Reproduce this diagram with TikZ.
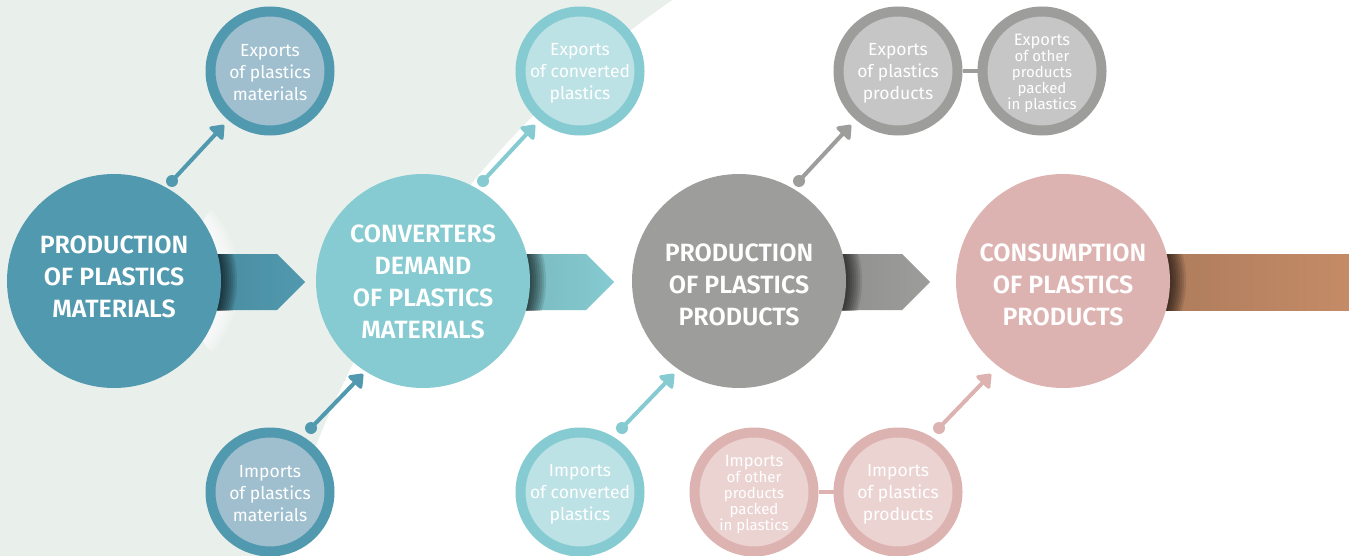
\documentclass[tikz,border=0pt]{standalone}
\usepackage{fontspec}
\setmainfont{Fira Sans}
\IfFontExistsTF{Fira Sans SemiBold}{\newfontfamily\headfont{Fira Sans SemiBold}}{\newcommand\headfont{\bfseries}}
\usetikzlibrary{arrows.meta}
\definecolor{bgc}{HTML}{E9F0EC}
\definecolor{tealD}{HTML}{5199AF}
\definecolor{tealDin}{HTML}{9FBFCF}
\definecolor{tealL}{HTML}{85CBD1}
\definecolor{tealLin}{HTML}{BDE2E5}
\definecolor{grayM}{HTML}{9D9D9C}
\definecolor{grayMin}{HTML}{C6C6C6}
\definecolor{pinkM}{HTML}{DDB3B1}
\definecolor{pinkMin}{HTML}{EBD3D2}
\definecolor{brownL}{HTML}{A8795A}
\definecolor{brownR}{HTML}{C58B67}
\newcommand\firstline[1]{{\fontsize{16.5}{16}\selectfont #1}}
\begin{document}
\begin{tikzpicture}[x=1pt,y=-1pt,
  mainc/.style={circle, minimum size=214pt, inner sep=0pt},
  maintext/.style={text=white, align=center, inner sep=0pt,
    font=\fontsize{25}{32}\selectfont\headfont},
  smallc/.style={circle, minimum size=119pt, inner sep=0pt, line width=10pt},
  smalltext/.style={text=white, align=center, inner sep=0pt,
    font=\fontsize{17.5}{22}\selectfont},
  packtext/.style={smalltext, font=\fontsize{15}{16}\selectfont},
  link/.style={line width=4pt, -{Triangle[length=14pt,width=21pt,round]}},
  joinline/.style={line width=4pt}]
\useasboundingbox (0,0) rectangle (1349,556);
\fill[white] (0,0) rectangle (1349,556);
\begin{scope}
  \clip (0,0) rectangle (1349,556);
  \fill[bgc, even odd rule] (0,0) rectangle (1349,556) (1225,807) circle[radius=978pt];
\end{scope}

\coordinate (c1) at (114,281);
\coordinate (c2) at (423,281);
\coordinate (c3) at (739,281);
\coordinate (c4) at (1063,281);

% arrows between stages
\foreach \cx/\col in {114/tealD, 423/tealL, 739/grayM} {
  \begin{scope}
    \clip (\cx+107,281) ellipse[x radius=30pt, y radius=75pt];
    \foreach \k in {2,4,...,18} \fill[white, opacity=0.14] (\cx+\k,281) circle[radius=107pt];
  \end{scope}
  \shade[left color=\col!88!black, right color=\col]
    (\cx+60,254) -- (\cx+163,254) -- (\cx+191,282) -- (\cx+163,310) -- (\cx+60,310) -- cycle;
  \begin{scope}
    \clip (\cx+60,254) rectangle (\cx+200,310);
    \foreach \k in {2,4,...,16} \fill[black, opacity=0.1] (\cx+\k,281) circle[radius=107pt];
  \end{scope}
}
\shade[left color=brownL, right color=brownR] (1120,254) rectangle (1349,310);
\begin{scope}
  \clip (1120,254) rectangle (1349,310);
  \foreach \k in {2,4,...,16} \fill[black, opacity=0.1] (1063+\k,281) circle[radius=107pt];
\end{scope}

% main circles
\node[mainc, fill=tealD] (m1) at (c1) {};
\node[mainc, fill=tealL] (m2) at (c2) {};
\node[mainc, fill=grayM] (m3) at (c3) {};
\node[mainc, fill=pinkM] (m4) at (c4) {};
\node[maintext] (m1t) at (114,277) {PRODUCTION\\OF PLASTICS\\MATERIALS};
\node[maintext] (m2t) at (423,282) {CONVERTERS\\DEMAND\\OF PLASTICS\\MATERIALS};
\node[maintext] (m3t) at (739,285) {PRODUCTION\\OF PLASTICS\\PRODUCTS};
\node[maintext] (m4t) at (1063,285) {CONSUMPTION\\OF PLASTICS\\PRODUCTS};

% small circles
\node[smallc, draw=tealD, fill=tealDin] (e1) at (270,71) {};
\node[smallc, draw=tealL, fill=tealLin] (e2) at (580,71) {};
\node[smallc, draw=grayM, fill=grayMin] (e3) at (898,71) {};
\node[smallc, draw=grayM, fill=grayMin] (e4) at (1042,71) {};
\node[smallc, draw=tealD, fill=tealDin] (i1) at (270,492) {};
\node[smallc, draw=tealL, fill=tealLin] (i2) at (580,492) {};
\node[smallc, draw=pinkM, fill=pinkMin] (i3) at (754,492) {};
\node[smallc, draw=pinkM, fill=pinkMin] (i4) at (898,492) {};

\node[smalltext] (e1t) at (270,73) {Exports\\of plastics\\materials};
\node[smalltext] (e2t) at (580,73) {Exports\\of converted\\plastics};
\node[smalltext] (e3t) at (898,73) {Exports\\of plastics\\products};
\node[packtext] (e4t) at (1042,73) {\firstline{Exports}\\of other\\products\\packed\\in plastics};
\node[smalltext] (i1t) at (270,494) {Imports\\of plastics\\materials};
\node[smalltext] (i2t) at (580,494) {Imports\\of converted\\plastics};
\node[packtext] (i3t) at (754,494) {\firstline{Imports}\\of other\\products\\packed\\in plastics};
\node[smalltext] (i4t) at (898,494) {Imports\\of plastics\\products};

\draw[joinline, grayM] (e3) -- (e4);
\draw[joinline, pinkM] (i3) -- (i4);

% diagonal connectors
\coordinate (d1) at (172,181); \coordinate (t1) at (224,125);
\coordinate (d2) at (483,181); \coordinate (t2) at (535,125);
\coordinate (d3) at (799,181); \coordinate (t3) at (851,125);
\coordinate (d4) at (311,428); \coordinate (t4) at (363,374);
\coordinate (d5) at (622,428); \coordinate (t5) at (674,374);
\coordinate (d6) at (939,428); \coordinate (t6) at (991,374);
\foreach \n/\col in {1/tealD, 2/tealL, 3/grayM, 4/tealD, 5/tealL, 6/pinkM} {
  \draw[link, \col] (d\n) -- (t\n);
  \fill[\col] (d\n) circle[radius=6pt];
}
\end{tikzpicture}
\end{document}
